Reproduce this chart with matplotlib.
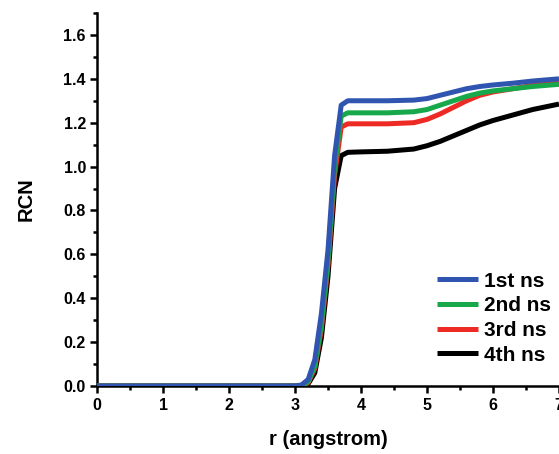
import numpy as np
import matplotlib.pyplot as plt
from matplotlib.ticker import MultipleLocator

# r grid (angstrom) and RCN per nanosecond window
r = [0.0, 3.0, 3.1, 3.2, 3.3, 3.4, 3.5, 3.6, 3.7, 3.8, 4.0, 4.4, 4.8,
     5.0, 5.2, 5.4, 5.6, 5.8, 6.0, 6.3, 6.6, 7.0]
rcn_1st = [0, 0, 0.005, 0.03, 0.12, 0.33, 0.62, 1.05, 1.28, 1.30, 1.30, 1.30,
           1.303, 1.31, 1.325, 1.34, 1.355, 1.365, 1.372, 1.38, 1.39, 1.40]
rcn_2nd = [0, 0, 0, 0.02, 0.09, 0.28, 0.57, 1.00, 1.23, 1.245, 1.245, 1.245,
           1.25, 1.26, 1.28, 1.30, 1.32, 1.335, 1.345, 1.355, 1.365, 1.375]
rcn_3rd = [0, 0, 0, 0.015, 0.08, 0.26, 0.55, 0.96, 1.18, 1.195, 1.195, 1.195,
           1.20, 1.215, 1.24, 1.27, 1.30, 1.325, 1.34, 1.355, 1.37, 1.38]
rcn_4th = [0, 0, 0, 0.01, 0.06, 0.22, 0.50, 0.90, 1.05, 1.065, 1.067, 1.07,
           1.08, 1.095, 1.115, 1.14, 1.165, 1.19, 1.21, 1.235, 1.26, 1.285]

labels = ["1st ns", "2nd ns", "3rd ns", "4th ns"]
colors = ["#2f55b0", "#17a84b", "#ee2a24", "#000000"]

FONT = "Liberation Sans"

fig = plt.figure(figsize=(5.59, 4.54), dpi=100)
ax = fig.add_axes([97 / 559, 1 - 386 / 454, 462 / 559, 373 / 454])

# draw back to front so 1st ns sits on top
series = [rcn_1st, rcn_2nd, rcn_3rd, rcn_4th]
for ys, lab, c, z in zip(series, labels, colors, [5, 4, 3, 2]):
    ax.plot(r, ys, color=c, lw=3.6, label=lab, zorder=z,
            solid_capstyle="butt")

ax.set_xlim(0, 7)
ax.set_ylim(0, 1.70)
ax.xaxis.set_major_locator(MultipleLocator(1))
ax.xaxis.set_minor_locator(MultipleLocator(0.5))
ax.yaxis.set_minor_locator(MultipleLocator(0.1))
ax.set_yticks(np.arange(0, 1.61, 0.2))

for s in ["top", "right"]:
    ax.spines[s].set_visible(False)
for s in ["left", "bottom"]:
    ax.spines[s].set_linewidth(1.8)

ax.tick_params(which="major", direction="out", length=5, width=1.8,
               labelsize=11.5)
ax.tick_params(axis="x", which="major", pad=4)
ax.tick_params(axis="y", which="major", pad=3)
ax.tick_params(which="minor", direction="out", length=3, width=1.8)
for t in ax.get_xticklabels() + ax.get_yticklabels():
    t.set_fontweight("bold")
    t.set_fontfamily(FONT)

ax.set_xlabel("r (angstrom)", fontsize=14.5, fontweight="bold",
              family=FONT, labelpad=12)
ax.set_ylabel("RCN", fontsize=14.5, fontweight="bold",
              family=FONT, labelpad=20)

ax.legend(loc="lower right", frameon=False, handlelength=2.0,
          handletextpad=0.25, labelspacing=0.27, borderaxespad=0,
          prop={"family": FONT, "weight": "bold", "size": 15},
          bbox_to_anchor=(1.0, 0.035))

fig.savefig("out.png", dpi=100)
